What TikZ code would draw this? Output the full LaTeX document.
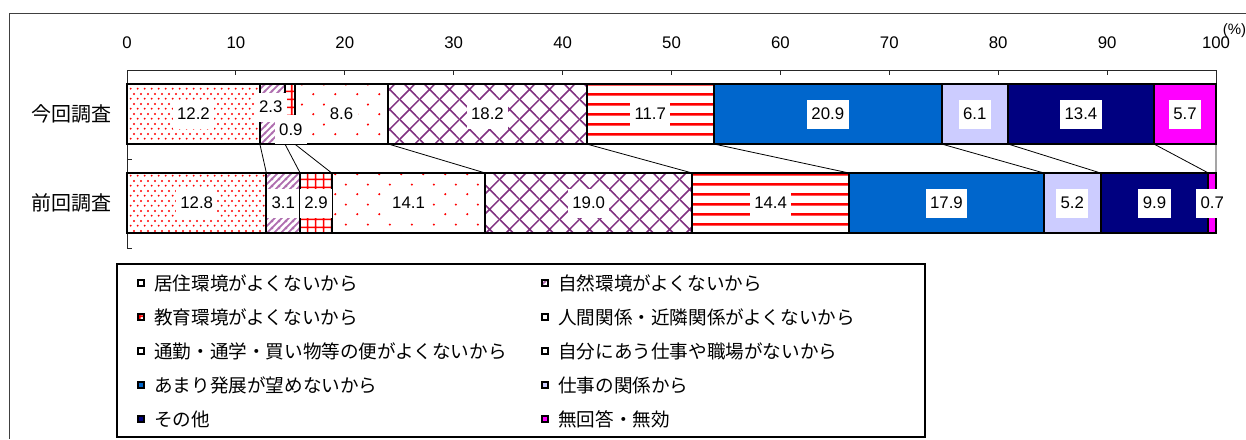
\documentclass[tikz,border=0pt]{standalone}
\usepackage{fontspec}
\setmainfont{Liberation Sans}
\newfontfamily\jp{Noto Sans CJK JP}
\usetikzlibrary{positioning,patterns}

\definecolor{barblue}{RGB}{0,102,204}
\definecolor{lavend}{RGB}{204,204,255}
\definecolor{navyc}{RGB}{0,0,128}
\definecolor{magc}{RGB}{255,0,255}
\definecolor{purp}{RGB}{128,48,128}
\definecolor{lpurp}{RGB}{175,110,175}

% fill patterns of the bars
\pgfdeclarepatternformonly{densedots}{\pgfpointorigin}{\pgfpoint{3.4pt}{4.8pt}}{\pgfpoint{3.4pt}{4.8pt}}{%
  \pgfpathcircle{\pgfpoint{0.85pt}{1.2pt}}{0.55pt}%
  \pgfpathcircle{\pgfpoint{2.55pt}{3.6pt}}{0.55pt}%
  \pgfusepath{fill}}
\pgfdeclarepatternformonly{sparsedots}{\pgfpointorigin}{\pgfpoint{11pt}{10pt}}{\pgfpoint{11pt}{10pt}}{%
  \pgfpathcircle{\pgfpoint{2.75pt}{2.5pt}}{0.6pt}%
  \pgfpathcircle{\pgfpoint{8.25pt}{7.5pt}}{0.6pt}%
  \pgfusepath{fill}}
\pgfdeclarepatternformonly{redgrid}{\pgfpointorigin}{\pgfpoint{4pt}{4pt}}{\pgfpoint{4pt}{4pt}}{%
  \pgfsetlinewidth{0.9pt}%
  \pgfpathmoveto{\pgfpoint{2pt}{-1pt}}\pgfpathlineto{\pgfpoint{2pt}{5pt}}%
  \pgfpathmoveto{\pgfpoint{-1pt}{2pt}}\pgfpathlineto{\pgfpoint{5pt}{2pt}}%
  \pgfusepath{stroke}}
\pgfdeclarepatternformonly{hlines}{\pgfpointorigin}{\pgfpoint{5pt}{5pt}}{\pgfpoint{5pt}{5pt}}{%
  \pgfsetlinewidth{1.3pt}%
  \pgfpathmoveto{\pgfpoint{-1pt}{2.5pt}}\pgfpathlineto{\pgfpoint{6pt}{2.5pt}}%
  \pgfusepath{stroke}}
\pgfdeclarepatternformonly{xhatch}{\pgfpointorigin}{\pgfpoint{10pt}{10pt}}{\pgfpoint{10pt}{10pt}}{%
  \pgfsetlinewidth{0.8pt}%
  \pgfpathmoveto{\pgfpoint{-1pt}{-1pt}}\pgfpathlineto{\pgfpoint{11pt}{11pt}}%
  \pgfpathmoveto{\pgfpoint{-1pt}{11pt}}\pgfpathlineto{\pgfpoint{11pt}{-1pt}}%
  \pgfusepath{stroke}}
\pgfdeclarepatternformonly{nelines}{\pgfpointorigin}{\pgfpoint{3.4pt}{3.4pt}}{\pgfpoint{3.4pt}{3.4pt}}{%
  \pgfsetlinewidth{0.9pt}%
  \pgfpathmoveto{\pgfpoint{-1pt}{-1pt}}\pgfpathlineto{\pgfpoint{4.4pt}{4.4pt}}%
  \pgfpathmoveto{\pgfpoint{-1pt}{2.4pt}}\pgfpathlineto{\pgfpoint{1pt}{4.4pt}}%
  \pgfpathmoveto{\pgfpoint{2.4pt}{-1pt}}\pgfpathlineto{\pgfpoint{4.4pt}{1pt}}%
  \pgfusepath{stroke}}

\tikzset{
  homefill/.style={pattern=densedots, pattern color=red},
  naturefill/.style={pattern=nelines, pattern color=lpurp},
  schoolfill/.style={pattern=redgrid, pattern color=red},
  peoplefill/.style={pattern=sparsedots, pattern color=red},
  commutefill/.style={pattern=xhatch, pattern color=purp},
  jobfill/.style={pattern=hlines, pattern color=red},
  growthfill/.style={fill=barblue},
  workfill/.style={fill=lavend},
  otherfill/.style={fill=navyc},
  noansfill/.style={fill=magc}
}

\begin{document}
\begin{tikzpicture}[x=0.5pt,y=-0.5pt,
  segbox/.style={draw=black, line width=1pt, rectangle, minimum height=30pt, minimum width=#1*5.445pt, inner sep=0pt, outer sep=0pt},
  lbl/.style={fill=white, inner xsep=2.2pt, inner ysep=0pt, minimum height=14.5pt, font=\fontsize{8.4}{10}\selectfont},
  ticklbl/.style={inner sep=0pt, font=\fontsize{8.4}{10}\selectfont},
  catlbl/.style={inner sep=0pt, font=\jp\fontsize{10}{12}\selectfont},
  keybox/.style={draw=black, line width=1pt, rectangle, minimum size=3.2pt, inner sep=0pt, outer sep=0pt},
  keytext/.style={inner sep=0pt, font=\jp\fontsize{9.3}{11}\selectfont},
  axisline/.style={draw=black!85, line width=0.5pt},
  link/.style={draw=black, line width=0.4pt}]
\useasboundingbox (0,0) rectangle (1246,439);
\draw[black!75, line width=0.6pt] (1246,13.5) -- (9.5,13.5) -- (9.5,439);

\begin{scope}[shift={(127,0)}, x=5.445pt]
% axis and ticks
\draw[axisline] (0,248) -- (0,70) -- (100,70) -- (100,84);
\draw[axisline] (10,70) -- (10,75) (20,70) -- (20,75) (30,70) -- (30,75)
  (40,70) -- (40,75) (50,70) -- (50,75) (60,70) -- (60,75) (70,70) -- (70,75)
  (80,70) -- (80,75) (90,70) -- (90,75) (0,159) -- (0.5,159) (0,248) -- (0.5,248);
\node[ticklbl] (t0) at (0,43) {0};
\node[ticklbl] (t10) at (10,43) {10};
\node[ticklbl] (t20) at (20,43) {20};
\node[ticklbl] (t30) at (30,43) {30};
\node[ticklbl] (t40) at (40,43) {40};
\node[ticklbl] (t50) at (50,43) {50};
\node[ticklbl] (t60) at (60,43) {60};
\node[ticklbl] (t70) at (70,43) {70};
\node[ticklbl] (t80) at (80,43) {80};
\node[ticklbl] (t90) at (90,43) {90};
\node[ticklbl] (t100) at (100,43) {100};
\node[inner sep=0pt, font=\fontsize{7.5}{9}\selectfont] (pct) at (101.7,31) {(\%)};

% this survey
\node[segbox=12.2, homefill, anchor=west] (n1) at (0,114) {};
\node[segbox=2.3, naturefill, right=0pt of n1] (n2) {};
\node[segbox=0.9, schoolfill, right=0pt of n2] (n3) {};
\node[segbox=8.6, peoplefill, right=0pt of n3] (n4) {};
\node[segbox=18.2, commutefill, right=0pt of n4] (n5) {};
\node[segbox=11.7, jobfill, right=0pt of n5] (n6) {};
\node[segbox=20.9, growthfill, right=0pt of n6] (n7) {};
\node[segbox=6.1, workfill, right=0pt of n7] (n8) {};
\node[segbox=13.4, otherfill, right=0pt of n8] (n9) {};
\node[segbox=5.7, noansfill, right=0pt of n9] (n10) {};

% previous survey
\node[segbox=12.8, homefill, anchor=west] (p1) at (0,203) {};
\node[segbox=3.1, naturefill, right=0pt of p1] (p2) {};
\node[segbox=2.9, schoolfill, right=0pt of p2] (p3) {};
\node[segbox=14.1, peoplefill, right=0pt of p3] (p4) {};
\node[segbox=19.0, commutefill, right=0pt of p4] (p5) {};
\node[segbox=14.4, jobfill, right=0pt of p5] (p6) {};
\node[segbox=17.9, growthfill, right=0pt of p6] (p7) {};
\node[segbox=5.2, workfill, right=0pt of p7] (p8) {};
\node[segbox=9.9, otherfill, right=0pt of p8] (p9) {};
\node[segbox=0.7, noansfill, right=0pt of p9] (p10) {};

\draw[link] (n1.south east) -- (p1.north east);
\draw[link] (n2.south east) -- (p2.north east);
\draw[link] (n3.south east) -- (p3.north east);
\draw[link] (n4.south east) -- (p4.north east);
\draw[link] (n5.south east) -- (p5.north east);
\draw[link] (n6.south east) -- (p6.north east);
\draw[link] (n7.south east) -- (p7.north east);
\draw[link] (n8.south east) -- (p8.north east);
\draw[link] (n9.south east) -- (p9.north east);
\draw[link] (n10.south east) -- (p10.north east);

\node[lbl] (n1v) at (n1.center) {12.2};
\node[lbl] (n2v) at (13.2,107) {2.3};
\node[lbl] (n3v) at (15.05,129.5) {0.9};
\node[lbl] (n4v) at (n4.center) {8.6};
\node[lbl] (n5v) at (n5.center) {18.2};
\node[lbl] (n6v) at (n6.center) {11.7};
\node[lbl] (n7v) at (n7.center) {20.9};
\node[lbl] (n8v) at (n8.center) {6.1};
\node[lbl] (n9v) at (n9.center) {13.4};
\node[lbl] (n10v) at (n10.center) {5.7};
\node[lbl] (p1v) at (p1.center) {12.8};
\node[lbl] (p2v) at (p2.center) {3.1};
\node[lbl] (p3v) at (p3.center) {2.9};
\node[lbl] (p4v) at (p4.center) {14.1};
\node[lbl] (p5v) at (p5.center) {19.0};
\node[lbl] (p6v) at (p6.center) {14.4};
\node[lbl] (p7v) at (p7.center) {17.9};
\node[lbl] (p8v) at (p8.center) {5.2};
\node[lbl] (p9v) at (p9.center) {9.9};
\node[lbl] (p10v) at (p10.center) {0.7};
\end{scope}

\node[catlbl] (now) at (72,114) {今回調査};
\node[catlbl] (prev) at (72,203) {前回調査};

% legend
\draw[black, line width=0.6pt] (117,264) rectangle (925,437);
\node[keybox, homefill] (k1) at (141,283) {};
\node[keytext, right=4.8pt of k1] (k1t) {居住環境がよくないから};
\node[keybox, schoolfill] (k3) at (141,317) {};
\node[keytext, right=4.8pt of k3] (k3t) {教育環境がよくないから};
\node[keybox, commutefill] (k5) at (141,351) {};
\node[keytext, right=4.8pt of k5] (k5t) {通勤・通学・買い物等の便がよくないから};
\node[keybox, growthfill] (k7) at (141,385) {};
\node[keytext, right=4.8pt of k7] (k7t) {あまり発展が望めないから};
\node[keybox, otherfill] (k9) at (141,419) {};
\node[keytext, right=4.8pt of k9] (k9t) {その他};
\node[keybox, naturefill] (k2) at (545,283) {};
\node[keytext, right=4.8pt of k2] (k2t) {自然環境がよくないから};
\node[keybox, peoplefill] (k4) at (545,317) {};
\node[keytext, right=4.8pt of k4] (k4t) {人間関係・近隣関係がよくないから};
\node[keybox, jobfill] (k6) at (545,351) {};
\node[keytext, right=4.8pt of k6] (k6t) {自分にあう仕事や職場がないから};
\node[keybox, workfill] (k8) at (545,385) {};
\node[keytext, right=4.8pt of k8] (k8t) {仕事の関係から};
\node[keybox, noansfill] (k10) at (545,419) {};
\node[keytext, right=4.8pt of k10] (k10t) {無回答・無効};
\end{tikzpicture}
\end{document}
